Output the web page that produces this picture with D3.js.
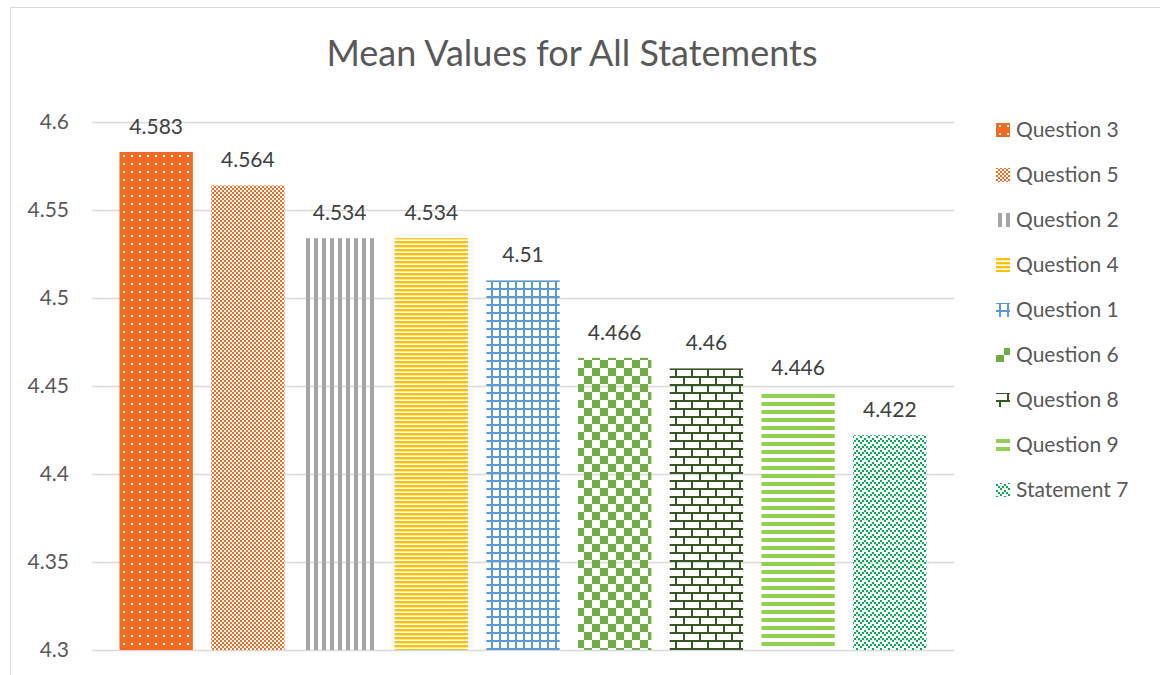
<!DOCTYPE html>
<html>
<head>
<meta charset="utf-8">
<script src="https://cdn.jsdelivr.net/npm/d3@7"></script>
<style>
  body { margin: 0; background: #fff; }
  svg { display: block; font-family: Lato, "Open Sans", sans-serif; }
</style>
</head>
<body>
<svg></svg>
<script>
const svgWidth = 1160
const svgHeight = 675

const categories = ["Question 3", "Question 5", "Question 2", "Question 4", "Question 1", "Question 6", "Question 8", "Question 9", "Statement 7"]
const values = [4.583, 4.564, 4.534, 4.534, 4.51, 4.466, 4.46, 4.446, 4.422]
const yTicks = [4.3, 4.35, 4.4, 4.45, 4.5, 4.55, 4.6]
const patternIds = ["dots", "fineCheck", "vStripe", "hStripe", "grid", "bigCheck", "brick", "wideStripe", "zigzag"]

const plot = {left: 92, right: 954, top: 122, bottom: 650}

const svg = d3.select("svg")
  .attr("width", svgWidth)
  .attr("height", svgHeight)

// patterns
const defs = svg.append("defs")
function pat(id, w, h) {
  return defs.append("pattern").attr("id", id)
    .attr("patternUnits", "userSpaceOnUse")
    .attr("width", w).attr("height", h)
}

let p = pat("dots", 8, 8)
p.append("rect").attr("width", 8).attr("height", 8).attr("fill", "#F26B21")
p.append("rect").attr("x", 3).attr("y", 3).attr("width", 2).attr("height", 2).attr("fill", "#fff")

p = pat("fineCheck", 4, 4)
p.append("rect").attr("width", 4).attr("height", 4).attr("fill", "#fff")
p.append("rect").attr("width", 2).attr("height", 2).attr("fill", "#F26B21")
p.append("rect").attr("x", 2).attr("y", 2).attr("width", 2).attr("height", 2).attr("fill", "#F26B21")

p = pat("vStripe", 8, 8)
p.append("rect").attr("x", 2).attr("width", 4).attr("height", 8).attr("fill", "#A5A5A5")

p = pat("hStripe", 4, 4)
p.append("rect").attr("y", 1).attr("width", 4).attr("height", 2.4).attr("fill", "#FFC000")

p = pat("grid", 8, 8)
p.append("rect").attr("width", 8).attr("height", 2).attr("fill", "#5B9BD5")
p.append("rect").attr("x", 3).attr("width", 2).attr("height", 8).attr("fill", "#5B9BD5")

p = pat("bigCheck", 16, 16)
p.append("rect").attr("width", 8).attr("height", 8).attr("fill", "#70AD47")
p.append("rect").attr("x", 8).attr("y", 8).attr("width", 8).attr("height", 8).attr("fill", "#70AD47")

p = pat("brick", 16, 16)
p.append("rect").attr("width", 16).attr("height", 2).attr("fill", "#375623")
p.append("rect").attr("y", 8).attr("width", 16).attr("height", 2).attr("fill", "#375623")
p.append("rect").attr("x", 3).attr("y", 0).attr("width", 2).attr("height", 8).attr("fill", "#375623")
p.append("rect").attr("x", 11).attr("y", 8).attr("width", 2).attr("height", 8).attr("fill", "#375623")

p = pat("wideStripe", 8, 8)
p.append("rect").attr("y", 2).attr("width", 8).attr("height", 4).attr("fill", "#92D050")

p = pat("zigzag", 8, 6)
const zz = [[0,0],[2,2],[4,4],[6,2]]
zz.forEach(([x, y]) => {
  p.append("rect").attr("x", x).attr("y", y).attr("width", 2).attr("height", 2).attr("fill", "#00B050")
})

// chart border
svg.append("rect")
  .attr("x", 10.5).attr("y", 7.5)
  .attr("width", 1200).attr("height", 700)
  .attr("fill", "none").attr("stroke", "#D9D9D9")

// title
svg.append("text")
  .attr("x", 572).attr("y", 66)
  .attr("text-anchor", "middle")
  .attr("font-size", 36)
  .attr("fill", "#595959")
  .text("Mean Values for All Statements")

const xScale = d3.scaleBand()
  .domain(categories)
  .range([plot.left, plot.right])
  .paddingInner(0.2)
  .paddingOuter(0.3)

const yScale = d3.scaleLinear()
  .domain([4.3, 4.6])
  .range([plot.bottom, plot.top])

// gridlines
const grid = svg.append("g")
  .attr("transform", `translate(${plot.left},0)`)
  .call(d3.axisRight(yScale).tickValues(yTicks).tickSize(plot.right - plot.left).tickFormat(""))
grid.select(".domain").remove()
grid.selectAll("line").attr("stroke", "#D9D9D9").attr("stroke-width", 1.5)

// y labels
const yAxis = svg.append("g")
  .attr("transform", `translate(${plot.left},0)`)
  .call(d3.axisLeft(yScale).tickValues(yTicks).tickSize(0).tickPadding(23).tickFormat(d => String(d)))
yAxis.select(".domain").remove()
yAxis.selectAll("text").attr("font-size", 21).attr("fill", "#595959").attr("font-family", "Lato, sans-serif")

// bars
svg.selectAll("rect.bar")
  .data(values)
  .enter()
  .append("rect")
  .attr("class", "bar")
  .attr("x", (d, i) => xScale(categories[i]))
  .attr("y", d => yScale(d))
  .attr("width", xScale.bandwidth())
  .attr("height", d => plot.bottom - yScale(d))
  .attr("fill", (d, i) => `url(#${patternIds[i]})`)

// data labels
svg.selectAll("text.lbl")
  .data(values)
  .enter()
  .append("text")
  .attr("class", "lbl")
  .attr("x", (d, i) => xScale(categories[i]) + xScale.bandwidth() / 2)
  .attr("y", d => yScale(d) - 18)
  .attr("text-anchor", "middle")
  .attr("font-size", 21)
  .attr("fill", "#404040")
  .text(d => String(d))

// legend
const legend = svg.append("g")
const rows = legend.selectAll("g")
  .data(categories)
  .enter()
  .append("g")
  .attr("transform", (d, i) => `translate(996,${130 + i * 45})`)
rows.append("rect")
  .attr("x", 0).attr("y", -7)
  .attr("width", 14).attr("height", 14)
  .attr("fill", (d, i) => `url(#${patternIds[i]})`)
rows.append("text")
  .attr("x", 20).attr("y", 7)
  .attr("font-size", 21)
  .attr("fill", "#595959")
  .text(d => d)
</script>
</body>
</html>
